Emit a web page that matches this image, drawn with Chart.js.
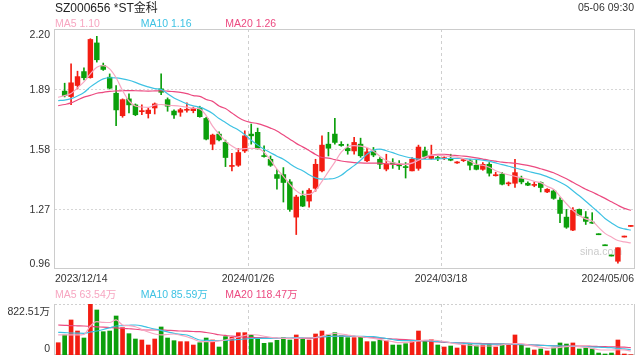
<!DOCTYPE html>
<html><head><meta charset="utf-8">
<script src="https://cdn.jsdelivr.net/npm/chart.js@4.4.1/dist/chart.umd.min.js"></script>
<style>
html,body{margin:0;padding:0;background:#fff;}
#wrap{position:relative;width:640px;height:360px;overflow:hidden;font-family:"Liberation Sans","Noto Sans CJK SC",sans-serif;}
canvas{position:absolute;left:0;top:0;}
.t{position:absolute;white-space:nowrap;line-height:1;}
</style></head><body>
<div id="wrap">
<canvas id="pc" width="640" height="360"></canvas>
<canvas id="vc" width="640" height="360"></canvas>
</div>
<script>
const stockName='SZ000656 *ST金科';
const timeText='05-06 09:30';
const dateTicks=['2023/12/14','2024/01/26','2024/03/18','2024/05/06'];
const priceTicks=[0.96,1.27,1.58,1.89,2.20];
const volTicks=[0,822.51];
const volTickLabels=['0','822.51万'];
const maNames=['MA5','MA10','MA20'];
const maPriceLegend=['1.10','1.16','1.26'];
const maVolLegend=['63.54万','85.59万','118.47万'];

const open=[null,1.879,1.851,1.908,1.980,1.949,2.128,2.011,1.951,1.868,
1.752,1.839,1.808,1.773,1.763,1.792,1.891,1.835,1.776,1.770,
1.780,1.778,1.792,1.738,1.605,1.657,1.614,1.490,1.496,1.570,
1.657,1.666,1.544,1.527,1.448,1.448,1.410,1.228,1.337,1.311,
1.377,1.467,1.605,1.657,1.604,1.583,1.570,1.605,1.519,1.570,
1.527,1.476,1.508,1.503,1.489,1.467,1.480,1.570,1.531,1.535,
1.530,1.527,1.508,1.520,1.519,1.496,1.475,1.501,1.442,1.450,
1.400,1.403,1.427,1.403,1.392,1.407,1.358,1.363,1.316,1.228,
1.161,1.268,1.228,1.200,1.137,1.080,1.027,1.000,1.125,1.180];
const high=[null,1.920,2.020,1.982,1.999,2.150,2.162,2.024,1.968,1.908,
1.839,1.865,1.813,1.808,1.792,1.818,1.968,1.844,1.783,1.790,
1.818,1.796,1.801,1.744,1.657,1.669,1.626,1.558,1.583,1.674,
1.709,1.688,1.596,1.544,1.474,1.484,1.422,1.341,1.363,1.376,
1.527,1.648,1.666,1.739,1.618,1.605,1.640,1.636,1.583,1.588,
1.536,1.553,1.530,1.520,1.510,1.536,1.600,1.590,1.600,1.545,
1.540,1.553,1.515,1.530,1.525,1.524,1.510,1.510,1.460,1.460,
1.410,1.527,1.440,1.410,1.410,1.410,1.375,1.370,1.329,1.268,
1.277,1.270,1.257,1.251,1.137,1.080,1.027,1.070,1.125,1.180];
const low=[null,1.849,1.809,1.890,1.937,1.946,2.029,1.986,1.890,1.700,
1.744,1.766,1.752,1.757,1.740,1.761,1.861,1.775,1.738,1.749,
1.770,1.767,1.744,1.627,1.576,1.622,1.489,1.467,1.490,1.562,
1.605,1.579,1.538,1.490,1.373,1.306,1.258,1.138,1.282,1.280,
1.362,1.462,1.544,1.605,1.594,1.553,1.553,1.537,1.515,1.540,
1.479,1.467,1.480,1.474,1.430,1.467,1.470,1.530,1.527,1.520,
1.525,1.519,1.505,1.515,1.472,1.472,1.470,1.440,1.440,1.395,
1.390,1.381,1.400,1.390,1.385,1.358,1.355,1.320,1.199,1.170,
1.158,1.235,1.190,1.195,1.137,1.080,1.027,0.990,1.125,1.180];
const close=[null,1.856,1.922,1.954,1.948,2.146,2.041,1.991,1.894,1.782,
1.835,1.808,1.757,1.776,1.781,1.813,1.873,1.801,1.756,1.783,
1.783,1.790,1.747,1.631,1.652,1.627,1.536,1.493,1.562,1.648,
1.648,1.585,1.541,1.496,1.428,1.407,1.268,1.332,1.285,1.367,
1.501,1.600,1.584,1.614,1.598,1.571,1.614,1.545,1.565,1.549,
1.501,1.501,1.503,1.493,1.484,1.527,1.590,1.541,1.544,1.531,
1.535,1.522,1.512,1.525,1.496,1.475,1.501,1.455,1.446,1.398,
1.404,1.458,1.410,1.393,1.396,1.381,1.372,1.325,1.247,1.176,
1.264,1.238,1.206,1.197,1.137,1.080,1.027,1.070,1.125,1.180];

const ma5=[1.847,1.856,1.867,1.896,1.927,1.968,2.003,2.011,1.994,1.948,
1.882,1.828,1.802,1.797,1.795,1.807,1.810,1.806,1.804,1.801,
1.796,1.791,1.787,1.753,1.698,1.657,1.621,1.595,1.579,1.582,
1.584,1.582,1.564,1.522,1.476,1.439,1.398,1.364,1.346,1.346,
1.367,1.413,1.463,1.512,1.564,1.592,1.597,1.595,1.587,1.569,
1.543,1.520,1.509,1.505,1.501,1.507,1.522,1.538,1.548,1.547,
1.545,1.541,1.538,1.530,1.517,1.501,1.496,1.486,1.468,1.456,
1.447,1.439,1.431,1.423,1.413,1.406,1.387,1.372,1.335,1.297,
1.263,1.237,1.219,1.208,1.175,1.144,1.125,1.107,1.100,1.095];
const ma10=[1.830,1.833,1.840,1.854,1.872,1.901,1.924,1.942,1.948,1.947,
1.942,1.935,1.924,1.911,1.901,1.892,1.888,1.865,1.844,1.828,
1.813,1.803,1.796,1.782,1.763,1.737,1.717,1.696,1.678,1.654,
1.625,1.600,1.579,1.561,1.543,1.527,1.504,1.483,1.468,1.447,
1.431,1.424,1.425,1.429,1.444,1.470,1.494,1.522,1.553,1.574,
1.579,1.571,1.561,1.549,1.540,1.533,1.528,1.527,1.527,1.529,
1.530,1.531,1.532,1.531,1.528,1.526,1.522,1.517,1.508,1.499,
1.491,1.482,1.474,1.465,1.457,1.449,1.437,1.424,1.408,1.390,
1.364,1.338,1.310,1.281,1.252,1.221,1.198,1.177,1.167,1.161];
const ma20=[1.804,1.810,1.818,1.833,1.848,1.857,1.868,1.873,1.878,1.880,
1.881,1.882,1.881,1.880,1.879,1.880,1.881,1.879,1.876,1.873,
1.866,1.856,1.852,1.836,1.826,1.802,1.789,1.766,1.743,1.726,
1.717,1.711,1.701,1.688,1.673,1.652,1.631,1.609,1.591,1.572,
1.552,1.536,1.533,1.525,1.518,1.513,1.510,1.508,1.507,1.507,
1.507,1.504,1.501,1.501,1.501,1.507,1.523,1.534,1.547,1.553,
1.553,1.549,1.546,1.543,1.539,1.534,1.528,1.522,1.517,1.512,
1.509,1.506,1.501,1.495,1.488,1.478,1.468,1.457,1.442,1.426,
1.408,1.390,1.372,1.358,1.341,1.325,1.307,1.289,1.273,1.263];

const vol=[198,323,565,387,274,822.51,726,376,387,629,
441,344,258,242,161,258,452,274,231,215,
215,161,198,274,242,129,296,285,360,360,
317,258,188,198,237,280,242,323,258,242,
339,387,323,360,311,280,280,296,215,215,
242,231,161,161,182,215,387,231,247,161,
129,145,113,156,177,150,161,177,129,177,
161,323,161,113,81,97,65,113,194,177,
194,97,113,97,32,16,32,242,16,5];
const vma5=[323,323,323,323,331,468,537,527,524,565,
484,473,456,411,371,339,323,331,339,318,
295,258,218,215,215,226,242,266,290,315,
331,323,302,285,274,269,269,271,274,277,
282,303,331,347,339,323,306,295,282,269,
250,231,215,200,205,213,226,239,242,234,
218,197,177,168,158,148,145,145,148,164,
177,185,185,164,142,126,108,116,124,135,
145,135,126,105,85,81,81,85,84,63.54];
const vma10=[366,361,355,352,350,371,387,411,439,468,
473,479,484,471,444,419,398,374,350,334,
323,282,242,237,232,234,237,242,250,258,
266,269,269,269,269,271,274,279,279,279,
282,295,298,302,305,306,303,300,298,295,
282,266,250,234,231,231,231,231,226,218,
210,202,194,189,185,181,177,177,177,177,
176,173,169,165,161,156,152,148,145,142,
139,137,134,129,126,121,118,108,100,85.59];
const vma20=[484,479,474,471,468,461,455,448,442,436,
431,423,415,406,403,403,403,398,394,387,
384,379,376,363,347,327,315,303,297,290,
285,281,277,274,271,269,269,269,269,269,
274,295,298,302,305,306,300,294,285,279,
273,266,258,253,247,240,234,226,218,210,
205,200,197,194,190,189,185,182,179,177,
174,169,166,163,160,156,153,148,145,145,
145,145,144,140,137,134,132,129,126,118.47];

const RED='#f31d12', GREEN='#0b9f0b';
const MA_COL=['#f7a6c1','#3ec2e3','#ec4a80'];
const FONT='"Liberation Sans","Noto Sans CJK SC",sans-serif';

function dayColor(i){
  const c=close[i],o=open[i];
  if(c==null) return RED;
  if(c>o) return RED;
  if(c<o) return GREEN;
  const p=close[i-1];
  return (p!=null && c<p)?GREEN:RED;
}
const colorsAll=close.map((_,i)=>dayColor(i));
const bodies=[],wicks=[],bodyCols=[];
close.forEach((c,i)=>{ if(c==null) return;
  bodies.push({x:i,y:[open[i],c]}); wicks.push({x:i,y:[low[i],high[i]]}); bodyCols.push(colorsAll[i]); });
const pts=arr=>arr.map((v,i)=>({x:i,y:v}));
const N=close.length;

// HTML texts
const wrap=document.getElementById('wrap');
function addText(txt,css){const d=document.createElement('div');d.className='t';d.textContent=txt;d.style.cssText=css;wrap.appendChild(d);}
addText(stockName,'left:55px;top:1.5px;font-size:12px;color:#222;');
addText(timeText,'right:6px;top:2.2px;font-size:10.5px;color:#333;');
const legX=[55,140.7,225.3];
maNames.forEach((n,k)=>{
  addText(n+' '+maPriceLegend[k],`left:${legX[k]}px;top:18.4px;font-size:10.5px;color:${MA_COL[k]};`);
  addText(n+' '+maVolLegend[k],`left:${legX[k]}px;top:288.6px;font-size:10.5px;color:${MA_COL[k]};`);
});

function line(ctx,x1,y1,x2,y2,color,dash){ctx.save();ctx.strokeStyle=color;ctx.lineWidth=1;ctx.setLineDash(dash||[]);ctx.beginPath();ctx.moveTo(x1,y1);ctx.lineTo(x2,y2);ctx.stroke();ctx.restore();}
function vThirds(chart){
  const {ctx,chartArea:a,scales:{x}}=chart;
  [1,2].forEach(k=>{const px=Math.round(x.getPixelForValue(x.min+(x.max-x.min)*k/3))+0.5; line(ctx,px,a.top,px,a.bottom,'#cfcfcf',[3,3]);});
}

const pricePanel={id:'pricePanel',
  beforeDatasetsDraw(chart){
    const {ctx,chartArea:a,scales:{y}}=chart;
    priceTicks.forEach(v=>{const py=Math.round(y.getPixelForValue(v))+0.5;
      if(py>a.top+1 && py<a.bottom-1) line(ctx,a.left,py,a.right,py,'#d6d6d6',[2,2]);});
    vThirds(chart);
    ctx.save();ctx.font='10.5px '+FONT;ctx.fillStyle='#cbcbcb';ctx.textAlign='right';
    ctx.fillText('sina.com',a.right-12,a.bottom-14.5);ctx.restore();
    ctx.save();ctx.strokeStyle='#cccccc';ctx.lineWidth=1;
    ctx.strokeRect(a.left-0.5,a.top+0.5,a.right-a.left+1,a.bottom-a.top-1);ctx.restore();
  },
  afterDraw(chart){
    const {ctx,chartArea:a,scales:{x,y}}=chart;
    ctx.save();ctx.font='10.5px '+FONT;ctx.fillStyle='#333';ctx.textAlign='right';
    priceTicks.forEach((v,k)=>{
      let py=y.getPixelForValue(v)+3.6;
      if(k===priceTicks.length-1) py=a.top+9; else if(k===0) py=a.bottom-1.8;
      ctx.fillText(v.toFixed(2),a.left-5,py);
    });
    dateTicks.forEach((t,k)=>{
      const px=x.getPixelForValue(x.min+(x.max-x.min)*k/3);
      ctx.textAlign=k===0?'left':(k===dateTicks.length-1?'right':'center');
      ctx.fillText(t,px,a.bottom+12.7);
    });
    ctx.restore();
  }
};
const volPanel={id:'volPanel',
  beforeDatasetsDraw(chart){
    const {ctx,chartArea:a}=chart;
    line(ctx,a.left,a.top+0.5,a.right,a.top+0.5,'#d0d0d0',[2,2]);
    vThirds(chart);
    line(ctx,a.left-0.5,a.top,a.left-0.5,a.bottom,'#cccccc');
    line(ctx,a.right+0.5,a.top,a.right+0.5,a.bottom,'#cccccc');
    line(ctx,a.left-0.5,a.bottom-0.5,a.right+0.5,a.bottom-0.5,'#cccccc');
  },
  afterDraw(chart){
    const {ctx,chartArea:a}=chart;
    ctx.save();ctx.font='10.5px '+FONT;ctx.fillStyle='#333';ctx.textAlign='right';
    ctx.fillText(volTickLabels[1],a.left-5,a.top+11);
    ctx.fillText(volTickLabels[0],a.left-5,a.bottom-3.3);
    ctx.restore();
  }
};

const common={responsive:false,animation:false,events:[],devicePixelRatio:1,
  plugins:{legend:{display:false},tooltip:{enabled:false}}};
const maDs=(arr,k)=>({type:'line',data:pts(arr),borderColor:MA_COL[k],borderWidth:1.2,pointRadius:0,
  cubicInterpolationMode:'monotone',order:k});

new Chart(document.getElementById('pc'),{
  type:'bar',
  data:{datasets:[
    maDs(ma5,0),maDs(ma10,1),maDs(ma20,2),
    {type:'bar',data:bodies,backgroundColor:bodyCols,barThickness:4.8,grouped:false,minBarLength:1,order:4},
    {type:'bar',data:wicks,backgroundColor:bodyCols,barThickness:1,grouped:false,minBarLength:1,order:5}
  ]},
  options:Object.assign({},common,{
    layout:{padding:{left:55,right:6,top:29,bottom:91}},
    scales:{x:{type:'linear',min:-0.5,max:N-0.5,offset:false,display:false},
            y:{min:priceTicks[0],max:priceTicks[priceTicks.length-1],display:false}}
  }),
  plugins:[pricePanel]
});

new Chart(document.getElementById('vc'),{
  type:'bar',
  data:{datasets:[
    maDs(vma5,0),maDs(vma10,1),maDs(vma20,2),
    {type:'bar',data:pts(vol),backgroundColor:colorsAll,barThickness:4,grouped:false,order:4}
  ]},
  options:Object.assign({},common,{
    layout:{padding:{left:55,right:6,top:304,bottom:5}},
    scales:{x:{type:'linear',min:-0.5,max:N-0.5,offset:false,display:false},
            y:{min:volTicks[0],max:volTicks[1],display:false}}
  }),
  plugins:[volPanel]
});
</script>
</body></html>
